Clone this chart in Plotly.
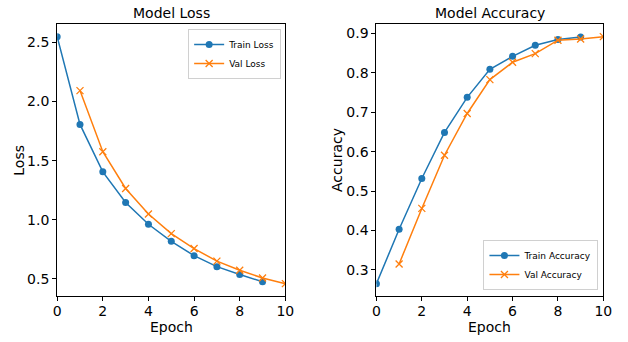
import plotly.graph_objects as go

epochs_train = [0, 1, 2, 3, 4, 5, 6, 7, 8, 9]
epochs_val = [1, 2, 3, 4, 5, 6, 7, 8, 9, 10]

train_loss = [2.55, 1.807, 1.405, 1.145, 0.961, 0.817, 0.695, 0.602, 0.536, 0.474]
val_loss = [2.093, 1.575, 1.264, 1.048, 0.882, 0.755, 0.649, 0.571, 0.506, 0.458]

train_acc = [0.265, 0.403, 0.532, 0.649, 0.738, 0.809, 0.842, 0.870, 0.885, 0.891]
val_acc = [0.315, 0.456, 0.591, 0.697, 0.783, 0.827, 0.849, 0.883, 0.886, 0.892]

BLUE = "#1f77b4"
ORANGE = "#ff7f0e"
FONT = "DejaVu Sans"
W, H = 628, 342

fig = go.Figure()

def add_pair(xa, ya, leg, xt, yt, xv, yv, name_t, name_v):
    fig.add_trace(go.Scatter(
        x=xt, y=yt, name=name_t, mode="lines+markers", xaxis=xa, yaxis=ya, legend=leg,
        line=dict(color=BLUE, width=1.5),
        marker=dict(symbol="circle", size=7, color=BLUE)))
    fig.add_trace(go.Scatter(
        x=xv, y=yv, name=name_v, mode="lines+markers", xaxis=xa, yaxis=ya, legend=leg,
        line=dict(color=ORANGE, width=1.5),
        marker=dict(symbol="x-thin", size=7, color=ORANGE,
                    line=dict(color=ORANGE, width=1.3))))

add_pair("x", "y", "legend", epochs_train, train_loss, epochs_val, val_loss,
         "Train Loss", "Val Loss")
add_pair("x2", "y2", "legend2", epochs_train, train_acc, epochs_val, val_acc,
         "Train Accuracy", "Val Accuracy")

ydom = [1 - 296 / H, 1 - 24.3 / H]
dom1 = [54.3 / W, 287.3 / W]
dom2 = [380.3 / W, 612 / W]

axis_common = dict(
    showgrid=False, zeroline=False, showline=True, linecolor="black", linewidth=1,
    mirror=True, ticks="outside", ticklen=4, tickwidth=1, tickcolor="black",
    tickfont=dict(family=FONT, size=14, color="black"),
)

loss_span = max(train_loss) - min(val_loss)
acc_span = max(val_acc) - min(train_acc)

legend_style = dict(bgcolor="white", bordercolor="#d0d0d0", borderwidth=1,
                    font=dict(family=FONT, size=9, color="black"),
                    tracegroupgap=0, itemwidth=30)

fig.update_layout(
    width=W, height=H,
    margin=dict(l=0, r=0, t=0, b=0),
    paper_bgcolor="white", plot_bgcolor="white",
    showlegend=True,
    xaxis=dict(domain=dom1, range=[0, 10], dtick=2, anchor="y", ticklabelstandoff=-2,
               **axis_common),
    yaxis=dict(domain=ydom, anchor="x", dtick=0.5, tickformat=".1f",
               range=[min(val_loss) - 0.05 * loss_span, max(train_loss) + 0.05 * loss_span],
               **axis_common),
    xaxis2=dict(domain=dom2, range=[0, 10], dtick=2, anchor="y2", ticklabelstandoff=-2,
                **axis_common),
    yaxis2=dict(domain=ydom, anchor="x2", dtick=0.1, tickformat=".1f",
                range=[min(train_acc) - 0.05 * acc_span, max(val_acc) + 0.05 * acc_span],
                **axis_common),
    legend=dict(x=283 / W, y=1 - 29 / H, xanchor="right", yanchor="top", **legend_style),
    legend2=dict(x=607 / W, y=1 - 290 / H, xanchor="right", yanchor="bottom", **legend_style),
)

def text(x, y, s, size, angle=0):
    fig.add_annotation(x=x / W, y=1 - y / H, xref="paper", yref="paper", text=s,
                       showarrow=False, textangle=angle,
                       font=dict(family=FONT, size=size, color="black"),
                       xanchor="center", yanchor="middle")

text((54.3 + 287.3) / 2, 13, "Model Loss", 14)
text((380.3 + 612) / 2, 13, "Model Accuracy", 14)
text((54.3 + 287.3) / 2, 327, "Epoch", 14)
text((380.3 + 612) / 2, 327, "Epoch", 14)
text(15, 160, "Loss", 14, -90)
text(340, 160, "Accuracy", 14, -90)

fig.write_html("out.html")
